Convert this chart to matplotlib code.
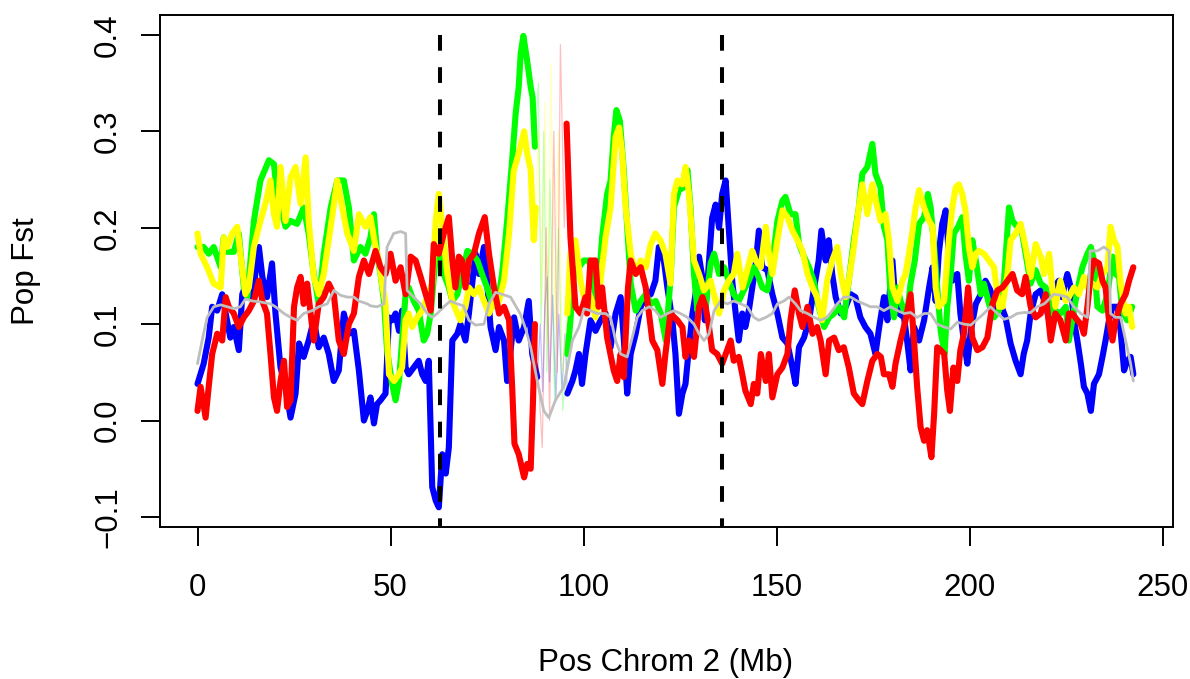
import matplotlib
matplotlib.use("Agg")
import matplotlib.pyplot as plt
import numpy as np

plt.rcParams["font.family"] = ["Liberation Sans", "DejaVu Sans"]

# sliding-window Fst along chromosome 2, (position Mb, Fst)
blue = [
    (0, 0.038), (1.6, 0.059), (2.9, 0.086), (3.8, 0.118), (5.1, 0.114), (6.4, 0.131), (7.3, 0.111),
    (8.5, 0.086), (9.4, 0.097), (10.7, 0.073), (11.6, 0.131), (12.9, 0.145), (14.2, 0.128), (15.9, 0.180),
    (16.8, 0.149), (18.0, 0.128), (19.3, 0.163), (20.2, 0.111), (21.5, 0.055), (22.8, 0.035), (24.1, 0.003),
    (25.4, 0.028), (26.3, 0.080), (27.5, 0.066), (28.8, 0.083), (30.1, 0.104), (31.4, 0.076), (32.7, 0.086),
    (34.0, 0.069), (35.3, 0.041), (36.6, 0.052), (37.9, 0.111), (39.2, 0.090), (40.5, 0.093), (41.8, 0.052),
    (43.1, 0.000), (44.0, 0.010), (44.8, 0.024), (45.7, -0.003), (46.5, 0.017), (47.4, 0.021), (48.7, 0.028),
    (49.6, 0.107), (50.4, 0.104), (51.3, 0.111), (52.2, 0.093), (53.0, 0.114), (53.9, 0.055), (54.7, 0.048),
    (56.0, 0.055), (57.3, 0.062), (58.2, 0.048), (59.1, 0.041), (59.9, 0.062), (60.8, -0.069), (61.7, -0.083),
    (62.5, -0.090), (63.4, -0.035), (64.3, -0.055), (65.1, -0.028), (66.0, 0.083), (67.3, 0.090), (68.1, 0.100),
    (69.4, 0.083), (70.3, 0.111), (72.0, 0.173), (72.9, 0.152), (74.2, 0.180), (75.0, 0.145), (75.9, 0.097),
    (77.2, 0.073), (78.1, 0.097), (79.4, 0.083), (80.2, 0.041), (81.1, 0.073), (82.0, 0.107), (83.2, 0.083),
    (84.6, 0.097), (85.8, 0.124), (86.7, 0.069), (88.0, 0.045),
    (88.8, 0.100), (89.4, 0.030), (90.0, 0.120), (90.6, 0.149), (91.2, 0.040), (92.0, 0.130), (92.8, 0.020),
    (93.6, 0.110), (94.4, 0.030), (95.2, 0.090),
    (95.8, 0.028), (97.1, 0.041), (97.9, 0.052), (98.8, 0.069), (99.6, 0.038), (100.5, 0.069), (101.8, 0.104),
    (103.1, 0.093), (104.4, 0.104), (105.7, 0.111), (107.0, 0.076), (108.3, 0.111), (109.6, 0.128), (110.4, 0.086),
    (111.3, 0.028), (112.2, 0.069), (113.5, 0.090), (114.8, 0.118), (116.1, 0.128), (117.4, 0.131), (118.6, 0.145),
    (119.5, 0.180), (120.8, 0.166), (121.7, 0.138), (123.0, 0.104), (123.8, 0.069), (124.7, 0.007), (125.6, 0.028),
    (126.4, 0.038), (127.3, 0.076), (128.2, 0.111), (129.0, 0.131), (129.9, 0.170), (130.7, 0.150), (131.4, 0.104),
    (132.0, 0.138), (133.3, 0.210), (134.2, 0.224), (135.1, 0.200), (135.9, 0.235), (136.8, 0.249), (137.6, 0.200),
    (138.5, 0.145), (139.4, 0.111), (140.2, 0.083), (141.1, 0.111), (141.9, 0.097), (142.8, 0.114), (143.7, 0.138),
    (144.6, 0.163), (145.4, 0.197), (146.3, 0.159), (147.6, 0.156), (148.9, 0.131), (150.2, 0.111), (151.5, 0.086),
    (152.8, 0.080), (154.1, 0.055), (154.9, 0.038), (155.8, 0.076), (157.1, 0.086), (158.4, 0.104), (159.6, 0.135),
    (160.9, 0.166), (161.6, 0.197), (162.7, 0.166), (163.5, 0.187), (164.4, 0.152), (165.3, 0.128), (166.6, 0.111),
    (167.9, 0.118), (169.2, 0.131), (170.4, 0.128), (171.7, 0.107), (173.0, 0.097), (174.3, 0.090), (175.6, 0.069),
    (176.5, 0.095), (177.8, 0.128), (178.7, 0.104), (180.0, 0.166), (180.8, 0.121), (181.7, 0.111), (183.0, 0.107),
    (183.8, 0.083), (184.7, 0.052), (185.6, 0.097), (186.9, 0.083), (188.2, 0.104), (189.5, 0.138), (190.4, 0.159),
    (191.2, 0.124), (192.0, 0.173), (192.9, 0.204), (193.8, 0.218), (194.6, 0.173), (195.5, 0.145), (196.8, 0.152),
    (197.6, 0.111), (198.5, 0.083), (199.4, 0.059), (200.3, 0.093), (201.6, 0.121), (202.9, 0.131), (204.1, 0.145),
    (205.4, 0.135), (206.7, 0.111), (208.0, 0.121), (209.3, 0.107), (210.6, 0.080), (211.9, 0.062), (213.2, 0.048),
    (214.0, 0.069), (214.9, 0.083), (215.8, 0.111), (217.1, 0.131), (218.4, 0.135), (219.7, 0.120), (220.6, 0.104),
    (221.8, 0.138), (223.1, 0.145), (223.9, 0.128), (225.3, 0.152), (226.2, 0.138), (227.0, 0.104), (227.9, 0.083),
    (228.8, 0.059), (229.6, 0.035), (230.5, 0.028), (231.4, 0.010), (232.2, 0.038), (233.5, 0.048), (234.4, 0.066),
    (235.2, 0.083), (236.1, 0.104), (237.0, 0.118), (238.3, 0.118), (239.1, 0.093), (240.0, 0.052), (240.8, 0.062),
    (241.7, 0.066), (242.4, 0.048),
]

green = [
    (0, 0.180), (1.6, 0.180), (2.9, 0.173), (4.2, 0.180), (6.0, 0.159), (6.8, 0.190), (7.7, 0.175), (9.4, 0.175),
    (10.7, 0.194), (12.0, 0.138), (12.9, 0.128), (14.6, 0.207), (16.3, 0.249), (18.5, 0.270), (19.8, 0.266),
    (20.6, 0.235), (22.8, 0.201), (24.1, 0.207), (25.8, 0.204), (27.5, 0.221), (28.8, 0.194), (30.1, 0.152),
    (31.4, 0.121), (32.7, 0.173), (34.5, 0.221), (36.2, 0.249), (37.9, 0.249), (39.2, 0.221), (40.5, 0.166),
    (42.2, 0.180), (43.5, 0.173), (44.8, 0.190), (45.7, 0.214), (46.5, 0.173), (47.4, 0.152), (48.3, 0.124),
    (49.1, 0.073), (50.4, 0.038), (51.3, 0.021), (52.2, 0.041), (53.0, 0.083), (53.9, 0.131), (54.7, 0.138),
    (56.0, 0.124), (57.3, 0.114), (58.6, 0.083), (59.5, 0.090), (60.4, 0.111), (61.7, 0.170), (62.5, 0.176),
    (63.8, 0.152), (65.1, 0.138), (66.0, 0.124), (67.3, 0.131), (68.5, 0.152), (69.9, 0.176), (71.2, 0.173),
    (72.5, 0.166), (73.7, 0.152), (75.0, 0.138), (76.3, 0.121), (77.6, 0.118), (78.9, 0.152), (80.2, 0.207),
    (81.5, 0.270), (82.4, 0.318), (83.2, 0.346), (83.7, 0.380), (84.4, 0.399), (85.4, 0.373), (86.3, 0.346),
    (86.8, 0.335), (87.4, 0.284),
    (88.3, 0.350), (89.0, 0.100), (89.7, 0.300), (90.5, 0.050), (91.3, 0.250), (92.5, 0.020), (93.5, 0.200),
    (94.6, 0.010),
    (95.8, 0.069), (96.6, 0.104), (97.5, 0.156), (98.8, 0.159), (100.1, 0.166), (101.4, 0.166), (102.2, 0.152),
    (103.5, 0.121), (104.8, 0.190), (106.1, 0.235), (107.0, 0.249), (107.8, 0.294), (108.5, 0.322), (109.4, 0.311),
    (110.4, 0.260), (111.3, 0.201), (112.2, 0.142), (113.5, 0.114), (114.8, 0.124), (116.1, 0.131), (117.4, 0.121),
    (118.7, 0.124), (120.0, 0.111), (121.3, 0.083), (122.6, 0.152), (123.4, 0.221), (124.7, 0.239), (126.0, 0.242),
    (126.9, 0.260), (127.7, 0.221), (128.6, 0.152), (129.5, 0.114), (130.3, 0.142), (131.6, 0.118), (132.9, 0.163),
    (133.8, 0.173), (135.1, 0.152), (136.4, 0.159), (137.6, 0.145), (138.9, 0.131), (140.2, 0.124), (141.5, 0.135),
    (142.8, 0.145), (144.1, 0.159), (145.0, 0.152), (146.3, 0.138), (147.6, 0.135), (148.9, 0.163), (150.2, 0.207),
    (151.5, 0.228), (152.3, 0.232), (153.6, 0.214), (154.9, 0.214), (155.8, 0.183), (157.1, 0.170), (158.4, 0.159),
    (159.6, 0.145), (160.9, 0.118), (162.3, 0.097), (163.6, 0.107), (164.9, 0.111), (166.1, 0.118), (167.5, 0.107),
    (168.7, 0.145), (170.0, 0.187), (171.3, 0.221), (172.2, 0.256), (173.5, 0.263), (174.8, 0.287), (175.6, 0.256),
    (176.9, 0.242), (177.8, 0.201), (178.7, 0.187), (179.5, 0.131), (180.4, 0.107), (181.3, 0.138), (182.1, 0.124),
    (183.0, 0.114), (183.8, 0.111), (184.7, 0.142), (185.8, 0.166), (186.9, 0.204), (188.2, 0.211), (189.2, 0.235),
    (189.9, 0.221), (190.8, 0.180), (191.6, 0.138), (192.5, 0.093), (193.5, 0.069), (194.2, 0.118), (195.1, 0.152),
    (195.9, 0.194), (197.0, 0.201), (198.1, 0.211), (198.9, 0.173), (199.8, 0.145), (200.7, 0.187), (201.6, 0.166),
    (202.9, 0.131), (203.7, 0.142), (205.0, 0.121), (206.3, 0.107), (207.6, 0.114), (208.9, 0.145), (210.2, 0.221),
    (211.1, 0.207), (212.3, 0.201), (213.6, 0.194), (214.5, 0.173), (215.8, 0.142), (217.1, 0.156), (218.4, 0.142),
    (219.7, 0.138), (221.0, 0.111), (222.2, 0.114), (223.5, 0.111), (224.9, 0.118), (225.7, 0.083), (226.6, 0.104),
    (227.9, 0.135), (229.2, 0.159), (230.5, 0.173), (231.4, 0.180), (232.2, 0.166), (233.1, 0.118), (234.4, 0.114),
    (235.7, 0.131), (237.0, 0.170), (237.8, 0.152), (238.7, 0.149), (239.5, 0.114), (240.8, 0.104), (242.1, 0.118),
]

yellow = [
    (0, 0.194), (0.8, 0.173), (2.5, 0.159), (4.2, 0.142), (6.0, 0.138), (6.8, 0.190), (7.7, 0.180), (9.0, 0.194),
    (10.3, 0.201), (11.1, 0.173), (12.4, 0.131), (13.3, 0.138), (14.6, 0.180), (15.9, 0.201), (17.6, 0.225),
    (18.9, 0.249), (19.8, 0.214), (20.6, 0.201), (21.5, 0.263), (22.8, 0.207), (24.1, 0.252), (25.4, 0.263),
    (26.7, 0.225), (28.0, 0.273), (28.8, 0.207), (30.1, 0.149), (31.4, 0.131), (32.7, 0.152), (34.5, 0.201),
    (36.2, 0.249), (37.5, 0.221), (38.8, 0.194), (40.5, 0.176), (41.8, 0.214), (43.5, 0.201), (44.8, 0.211),
    (46.1, 0.180), (47.0, 0.166), (47.8, 0.142), (48.7, 0.121), (49.6, 0.048), (50.9, 0.041), (52.2, 0.048),
    (53.0, 0.055), (53.9, 0.104), (54.7, 0.111), (55.6, 0.097), (56.9, 0.107), (58.2, 0.114), (59.5, 0.128),
    (60.8, 0.142), (61.7, 0.207), (62.5, 0.235), (63.4, 0.201), (64.7, 0.152), (66.0, 0.124), (67.3, 0.111),
    (68.1, 0.104), (69.4, 0.118), (70.3, 0.138), (71.6, 0.131), (72.9, 0.138), (74.2, 0.124), (75.5, 0.111),
    (76.8, 0.124), (78.1, 0.124), (79.4, 0.145), (80.7, 0.194), (81.9, 0.259), (83.2, 0.277), (84.6, 0.300),
    (85.4, 0.277), (86.3, 0.260), (87.1, 0.187), (87.6, 0.221),
    (88.3, 0.300), (89.2, 0.120), (90.0, 0.330), (90.8, 0.080), (91.5, 0.370), (92.5, 0.100), (93.5, 0.300),
    (94.5, 0.050),
    (95.8, 0.111), (96.6, 0.173), (97.9, 0.187), (99.2, 0.145), (100.5, 0.121), (101.8, 0.128), (103.1, 0.107),
    (104.4, 0.145), (105.7, 0.190), (107.0, 0.221), (108.3, 0.294), (109.2, 0.304), (110.0, 0.277), (110.9, 0.221),
    (112.2, 0.173), (113.5, 0.152), (114.8, 0.166), (116.1, 0.159), (117.4, 0.183), (118.6, 0.194), (119.9, 0.187),
    (121.2, 0.173), (122.5, 0.142), (123.4, 0.235), (124.3, 0.249), (125.6, 0.245), (126.4, 0.263), (127.3, 0.235),
    (128.6, 0.166), (129.9, 0.152), (131.2, 0.135), (132.9, 0.145), (134.2, 0.124), (135.1, 0.111), (136.4, 0.135),
    (137.6, 0.145), (138.9, 0.152), (139.8, 0.173), (141.2, 0.138), (142.4, 0.156), (143.7, 0.176), (144.6, 0.166),
    (145.9, 0.159), (147.2, 0.201), (148.0, 0.173), (148.9, 0.152), (150.2, 0.187), (151.5, 0.218), (152.8, 0.211),
    (154.1, 0.197), (155.4, 0.187), (156.7, 0.176), (158.0, 0.152), (159.3, 0.138), (160.5, 0.128), (161.8, 0.104),
    (163.1, 0.145), (164.4, 0.166), (165.7, 0.180), (166.6, 0.152), (167.9, 0.128), (168.7, 0.145), (170.0, 0.180),
    (171.3, 0.221), (172.2, 0.245), (173.5, 0.214), (174.8, 0.245), (175.7, 0.228), (176.9, 0.207), (178.2, 0.214),
    (179.1, 0.187), (180.0, 0.138), (181.3, 0.124), (182.6, 0.145), (183.4, 0.152), (184.3, 0.173), (185.1, 0.194),
    (186.0, 0.221), (186.9, 0.239), (188.2, 0.221), (189.5, 0.207), (190.4, 0.201), (191.2, 0.138), (192.0, 0.118),
    (193.4, 0.124), (194.6, 0.187), (195.5, 0.221), (196.4, 0.242), (197.2, 0.245), (198.1, 0.235), (198.9, 0.218),
    (199.8, 0.180), (200.7, 0.159), (201.6, 0.173), (202.4, 0.176), (203.7, 0.173), (205.0, 0.166), (206.3, 0.159),
    (207.6, 0.118), (208.5, 0.118), (209.8, 0.152), (210.6, 0.187), (211.9, 0.194), (213.2, 0.204), (214.5, 0.180),
    (215.8, 0.149), (217.1, 0.183), (218.4, 0.170), (219.3, 0.152), (220.6, 0.173), (221.4, 0.138), (222.2, 0.118),
    (223.5, 0.145), (224.9, 0.124), (225.7, 0.128), (227.0, 0.138), (228.3, 0.131), (229.6, 0.149), (230.5, 0.138),
    (231.8, 0.142), (233.1, 0.138), (234.4, 0.152), (235.7, 0.159), (236.5, 0.201), (237.4, 0.187), (238.3, 0.180),
    (239.1, 0.142), (240.4, 0.111), (241.3, 0.118), (242.1, 0.097),
]

red = [
    (0, 0.010), (0.8, 0.035), (2.1, 0.003), (2.9, 0.035), (3.8, 0.069), (5.1, 0.090), (6.4, 0.083), (7.3, 0.128),
    (8.1, 0.118), (9.4, 0.111), (10.7, 0.097), (12.0, 0.107), (13.3, 0.114), (14.6, 0.124), (15.9, 0.145),
    (16.8, 0.124), (18.0, 0.111), (18.9, 0.069), (19.8, 0.024), (20.6, 0.010), (21.5, 0.041), (22.4, 0.062),
    (23.2, 0.014), (24.1, 0.021), (25.0, 0.118), (25.8, 0.138), (26.7, 0.149), (27.5, 0.121), (28.4, 0.142),
    (29.3, 0.111), (30.1, 0.083), (31.4, 0.121), (32.7, 0.128), (34.0, 0.142), (35.3, 0.131), (36.6, 0.083),
    (37.9, 0.069), (39.2, 0.100), (40.5, 0.111), (41.8, 0.149), (43.1, 0.166), (44.4, 0.152), (46.1, 0.176),
    (47.4, 0.159), (48.7, 0.152), (50.0, 0.173), (51.3, 0.145), (52.6, 0.159), (53.9, 0.131), (55.2, 0.170),
    (56.5, 0.166), (57.8, 0.149), (59.1, 0.131), (60.4, 0.114), (61.2, 0.183), (62.5, 0.173), (63.8, 0.194),
    (65.1, 0.211), (66.0, 0.166), (66.8, 0.138), (67.7, 0.170), (68.5, 0.166), (69.4, 0.138), (70.3, 0.166),
    (71.6, 0.173), (72.9, 0.194), (74.4, 0.211), (75.5, 0.173), (76.8, 0.138), (78.1, 0.111), (79.4, 0.118),
    (80.7, 0.104), (81.5, 0.035), (82.1, -0.024), (83.2, -0.035), (84.6, -0.059), (85.4, -0.045), (86.3, -0.050),
    (86.9, 0.020), (87.4, 0.100),
    (88.2, 0.050), (89.3, -0.028), (90.3, 0.200), (91.2, 0.000), (92.3, 0.300), (93.2, 0.050), (94.0, 0.390),
    (95.0, 0.200),
    (95.6, 0.308), (96.6, 0.190), (97.9, 0.118), (99.2, 0.111), (100.5, 0.128), (100.9, 0.111), (101.8, 0.166),
    (103.1, 0.166), (103.9, 0.118), (104.8, 0.138), (106.1, 0.086), (107.8, 0.052), (108.7, 0.041), (109.6, 0.069),
    (110.4, 0.045), (111.5, 0.138), (112.2, 0.166), (113.5, 0.152), (114.8, 0.159), (116.1, 0.138), (117.8, 0.083),
    (119.1, 0.073), (120.4, 0.038), (121.2, 0.069), (122.5, 0.111), (124.3, 0.104), (125.6, 0.097), (126.4, 0.066),
    (127.3, 0.083), (128.6, 0.066), (129.9, 0.118), (130.8, 0.128), (131.6, 0.118), (132.5, 0.097), (133.3, 0.073),
    (134.6, 0.069), (135.9, 0.059), (137.2, 0.073), (138.1, 0.083), (138.9, 0.062), (140.2, 0.066), (141.1, 0.048),
    (141.9, 0.031), (143.3, 0.017), (144.1, 0.038), (145.0, 0.028), (145.9, 0.069), (147.2, 0.041), (148.0, 0.069),
    (148.9, 0.024), (150.2, 0.048), (151.5, 0.055), (152.8, 0.069), (153.6, 0.104), (154.7, 0.135), (155.8, 0.111),
    (156.7, 0.097), (158.0, 0.118), (159.3, 0.090), (160.5, 0.097), (161.4, 0.083), (162.7, 0.048), (163.6, 0.083),
    (164.9, 0.086), (166.1, 0.073), (167.4, 0.076), (168.7, 0.055), (170.0, 0.028), (171.3, 0.021), (172.2, 0.017),
    (173.5, 0.041), (174.8, 0.062), (176.1, 0.069), (177.0, 0.066), (177.8, 0.048), (179.1, 0.048), (180.0, 0.035),
    (180.8, 0.059), (182.1, 0.083), (183.4, 0.104), (184.7, 0.131), (185.6, 0.083), (186.4, 0.035), (187.3, -0.007),
    (188.2, -0.021), (189.0, -0.010), (190.1, -0.038), (190.8, 0.007), (191.6, 0.076), (192.5, 0.073), (193.4, 0.069),
    (194.2, 0.031), (194.9, 0.010), (195.8, 0.055), (196.8, 0.041), (197.6, 0.073), (198.5, 0.090), (199.6, 0.138),
    (200.7, 0.086), (202.0, 0.073), (203.3, 0.076), (204.6, 0.086), (205.9, 0.121), (207.2, 0.135), (208.5, 0.138),
    (209.8, 0.145), (211.1, 0.152), (212.3, 0.135), (213.6, 0.131), (214.5, 0.149), (215.8, 0.118), (217.1, 0.107),
    (218.4, 0.111), (219.7, 0.131), (221.0, 0.083), (222.2, 0.111), (223.5, 0.104), (224.9, 0.083), (225.7, 0.111),
    (226.6, 0.111), (227.9, 0.104), (228.8, 0.100), (229.6, 0.090), (230.5, 0.118), (231.4, 0.152), (232.2, 0.166),
    (233.5, 0.163), (234.4, 0.145), (235.2, 0.138), (236.1, 0.104), (237.0, 0.083), (237.8, 0.104), (239.1, 0.121),
    (240.4, 0.131), (241.3, 0.145), (242.4, 0.159),
]

gray = [
    (0, 0.059), (1.2, 0.083), (2.5, 0.107), (4.2, 0.118), (6.0, 0.120), (7.7, 0.118), (9.4, 0.116), (11.1, 0.118),
    (12.4, 0.126), (14.2, 0.124), (16.3, 0.123), (18.9, 0.121), (20.2, 0.118), (22.4, 0.111), (24.1, 0.107),
    (25.8, 0.104), (27.5, 0.111), (29.7, 0.114), (31.4, 0.118), (33.6, 0.121), (35.3, 0.135), (37.0, 0.130),
    (38.8, 0.128), (40.5, 0.128), (41.8, 0.124), (44.0, 0.121), (44.8, 0.119), (46.5, 0.118), (48.3, 0.121),
    (49.1, 0.180), (50.8, 0.194), (52.6, 0.196), (53.9, 0.194), (54.3, 0.135), (56.0, 0.128), (57.8, 0.121),
    (59.5, 0.111), (60.8, 0.107), (62.1, 0.111), (63.8, 0.118), (65.5, 0.124), (67.3, 0.121), (68.9, 0.119),
    (70.3, 0.104), (72.0, 0.099), (74.2, 0.100), (75.5, 0.121), (77.2, 0.133), (78.9, 0.131), (81.1, 0.128),
    (83.7, 0.110), (85.0, 0.095), (86.3, 0.076), (88.0, 0.041), (89.7, 0.010), (91.0, 0.003), (92.7, 0.021),
    (94.9, 0.035), (97.1, 0.083), (98.8, 0.097), (100.1, 0.116), (101.8, 0.114), (103.5, 0.111), (105.7, 0.111),
    (107.0, 0.107), (108.3, 0.083), (109.6, 0.069), (111.3, 0.066), (112.6, 0.086), (113.9, 0.107), (115.2, 0.114),
    (117.0, 0.118), (118.6, 0.114), (119.9, 0.107), (121.7, 0.111), (123.4, 0.114), (125.1, 0.111), (126.9, 0.107),
    (128.6, 0.100), (129.9, 0.090), (131.2, 0.083), (132.5, 0.090), (133.8, 0.114), (135.5, 0.124), (137.2, 0.121),
    (138.9, 0.124), (140.7, 0.121), (142.4, 0.118), (144.1, 0.107), (145.4, 0.104), (147.2, 0.107), (148.9, 0.111),
    (150.2, 0.121), (151.9, 0.124), (153.2, 0.128), (154.9, 0.121), (156.2, 0.114), (158.0, 0.111), (159.7, 0.107),
    (161.4, 0.104), (163.1, 0.107), (164.4, 0.114), (165.7, 0.121), (167.4, 0.128), (169.2, 0.128), (170.9, 0.124),
    (172.6, 0.121), (174.3, 0.118), (176.1, 0.118), (177.8, 0.114), (179.5, 0.118), (181.3, 0.114), (183.0, 0.111),
    (184.7, 0.112), (186.4, 0.107), (188.2, 0.111), (189.9, 0.111), (191.6, 0.100), (193.4, 0.097), (195.1, 0.095),
    (196.8, 0.102), (198.5, 0.100), (200.3, 0.099), (202.0, 0.105), (203.7, 0.111), (205.4, 0.118), (207.2, 0.111),
    (208.9, 0.105), (210.6, 0.107), (212.3, 0.111), (214.0, 0.112), (215.8, 0.112), (217.5, 0.118), (219.3, 0.121),
    (220.1, 0.124), (221.8, 0.131), (223.5, 0.130), (225.3, 0.128), (227.0, 0.118), (228.8, 0.111), (230.5, 0.107),
    (231.2, 0.176), (233.1, 0.176), (234.8, 0.180), (236.1, 0.176), (236.5, 0.111), (237.8, 0.107), (239.1, 0.107),
    (240.4, 0.083), (241.7, 0.059), (242.4, 0.041),
]

# stretch with almost no markers, drawn faint (start, end in Mb)
gaps = {"blue": (88.0, 95.8), "green": (87.4, 95.8), "yellow": (87.6, 95.8), "red": (87.4, 95.6)}
boundaries = [62.7, 135.9]


def draw(ax, pts, color, gap=None, lw=4.4):
    arr = np.array(pts)
    x, y = arr[:, 0], arr[:, 1]
    if gap is None:
        ax.plot(x, y, color=color, lw=lw, solid_joinstyle="round", solid_capstyle="round")
        return
    pre = x <= gap[0]
    post = x >= gap[1]
    mid = (x >= gap[0]) & (x <= gap[1])
    ax.plot(x[mid], y[mid], color=color, lw=0.9, alpha=0.25)
    for m in (pre, post):
        ax.plot(x[m], y[m], color=color, lw=lw, solid_joinstyle="round", solid_capstyle="round")


fig = plt.figure(figsize=(11.9, 6.79), dpi=100)
ax = fig.add_axes([0.1345, 0.2239, 0.8513, 0.7541])

draw(ax, blue, "#0000FF", gaps["blue"])
draw(ax, green, "#00FF00", gaps["green"])
draw(ax, yellow, "#FFFF00", gaps["yellow"])
draw(ax, red, "#FF0000", gaps["red"])
draw(ax, gray, "#BEBEBE", None, lw=2.0)

# dashed boundaries, drawn top-down so the dash pattern starts at 0.4
for b in boundaries:
    ax.plot([b, b], [0.4, -0.2], color="black", lw=2.9, linestyle=(0, (3.9, 4.1)),
            dash_capstyle="butt")

ax.set_xlim(-9.7, 252.7)
ax.set_ylim(-0.1104, 0.4207)
ax.set_xticks([0, 50, 100, 150, 200, 250])
yt = [-0.1, 0.0, 0.1, 0.2, 0.3, 0.4]
ax.set_yticks(yt)
ax.set_yticklabels(["\u22120.1", "0.0", "0.1", "0.2", "0.3", "0.4"], rotation=90, va="center")
ax.tick_params(axis="both", length=13.5, width=1.4, labelsize=22.5, color="black")
ax.tick_params(axis="x", pad=19.5)
ax.tick_params(axis="y", pad=13)
for s in ax.spines.values():
    s.set_linewidth(1.4)

fig.text(666 / 1190, 1 - 663 / 679, "Pos Chrom 2 (Mb)", ha="center", va="center", fontsize=22.5)
fig.text(26 / 1190, 1 - 271 / 679, "Pop Fst", ha="center", va="center", rotation=90, fontsize=22.5)

fig.savefig("out.png", dpi=100)
